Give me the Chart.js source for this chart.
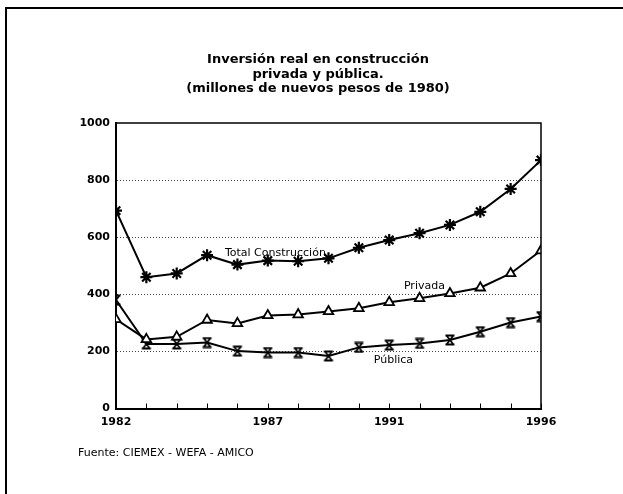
<!DOCTYPE html>
<html><head><meta charset="utf-8">
<script src="https://cdn.jsdelivr.net/npm/chart.js@4/dist/chart.umd.min.js"></script>
<style>html,body{margin:0;padding:0;background:#fff}canvas{display:block}</style>
</head><body>
<canvas id="c" width="623" height="494"></canvas>
<script>
// ---- data ----
const years = [1982,1983,1984,1985,1986,1987,1988,1989,1990,1991,1992,1993,1994,1995,1996];
const total   = [693,460,473,537,504,518,516,526,563,590,614,643,689,769,870];
const privada = [312,242,251,310,298,326,329,340,351,372,386,403,423,473,553];
const publica = [380,226,226,231,201,196,196,184,214,222,228,240,269,301,322];
const xTickLabels = [1982,1987,1991,1996];
const yTickValues = [0,200,400,600,800,1000];
const titleLines = ['Inversión real en construcción','privada y pública.','(millones de nuevos pesos de 1980)'];
const seriesNames = ['Total Construcción','Privada','Pública'];
const seriesLabelAt = [[1987.25,545],[1992.16,429],[1991.14,170]]; // data units
const sourceText = 'Fuente: CIEMEX - WEFA - AMICO';

const FONT = '"DejaVu Sans", Arial, sans-serif';

function hourglass(){
  const c=document.createElement('canvas'); c.width=12; c.height=12;
  const g=c.getContext('2d'); g.strokeStyle='#000'; g.lineWidth=1.8;
  g.beginPath();
  g.moveTo(1.5,1.5); g.lineTo(10.5,1.5);
  g.moveTo(1.5,10.5); g.lineTo(10.5,10.5);
  g.moveTo(2.5,1.5); g.lineTo(9.5,10.5);
  g.moveTo(9.5,1.5); g.lineTo(2.5,10.5);
  g.stroke(); return c;
}

const toXY = arr => years.map((y,i)=>({x:y,y:arr[i]}));

const decor = {
  id:'decor',
  afterDraw(chart){
    const ctx=chart.ctx, a=chart.chartArea, xs=chart.scales.x, ys=chart.scales.y;
    ctx.save();
    // outer frame
    ctx.strokeStyle='#000'; ctx.lineWidth=2;
    ctx.beginPath(); ctx.moveTo(6,500); ctx.lineTo(6,8); ctx.lineTo(630,8); ctx.stroke();
    // plot box top & right
    ctx.lineWidth=1.5;
    ctx.beginPath(); ctx.moveTo(a.left,a.top); ctx.lineTo(a.right,a.top); ctx.lineTo(a.right,a.bottom); ctx.stroke();
    // inward year ticks
    ctx.lineWidth=1;
    years.forEach(y=>{ const px=Math.round(xs.getPixelForValue(y))+0.5; ctx.beginPath(); ctx.moveTo(px,a.bottom); ctx.lineTo(px,a.bottom-5); ctx.stroke(); });
    // title
    ctx.fillStyle='#000'; ctx.textAlign='center'; ctx.textBaseline='middle';
    ctx.font='bold 13px '+FONT;
    titleLines.forEach((t,i)=>ctx.fillText(t, 318, 60+i*14.5));
    // series labels
    ctx.font='11px '+FONT;
    seriesNames.forEach((t,i)=>ctx.fillText(t, xs.getPixelForValue(seriesLabelAt[i][0]), ys.getPixelForValue(seriesLabelAt[i][1])));
    // source
    ctx.textAlign='left'; ctx.font='11px '+FONT;
    ctx.fillText(sourceText, 78, 453);
    ctx.restore();
  }
};

const ds = (label,arr,style,extra)=>Object.assign({
  label, data:toXY(arr), borderColor:'#000', borderWidth:2, pointStyle:style,
  pointRadius:5, pointBorderColor:'#000', pointBackgroundColor:'#fff', pointBorderWidth:1.8,
  tension:0, fill:false
},extra||{});

new Chart(document.getElementById('c'),{
  type:'line',
  data:{datasets:[
    ds(seriesNames[0],total,'star',{pointRadius:6,pointBorderWidth:2.2}),
    ds(seriesNames[1],privada,'triangle',{pointRadius:5.5}),
    ds(seriesNames[2],publica,hourglass(),{})
  ]},
  options:{
    responsive:false, animation:false, devicePixelRatio:1,
    layout:{padding:{top:123,right:82,left:0,bottom:0}},
    plugins:{legend:{display:false},tooltip:{enabled:false},title:{display:false}},
    scales:{
      x:{type:'linear',min:1982,max:1996,
        afterFit(s){s.height=85.5;},
        afterBuildTicks(s){s.ticks=xTickLabels.map(v=>({value:v}));},
        grid:{display:false,drawTicks:false},
        border:{display:true,color:'#000',width:2},
        ticks:{padding:7,color:'#000',font:{family:FONT,size:11,weight:'bold'},callback:v=>String(v),maxRotation:0,autoSkip:false}
      },
      y:{min:0,max:1000,
        afterFit(s){s.width=116;},
        afterBuildTicks(s){s.ticks=yTickValues.map(v=>({value:v}));},
        grid:{drawTicks:false,color:'#444',lineWidth:c=>(c.tick&&(c.tick.value===0||c.tick.value===1000))?0:1},
        border:{display:true,color:'#000',width:2,dash:[1,2]},
        ticks:{padding:6,color:'#000',font:{family:FONT,size:11,weight:'bold'},callback:v=>String(v)}
      }
    }
  },
  plugins:[decor]
});
</script>
</body></html>
